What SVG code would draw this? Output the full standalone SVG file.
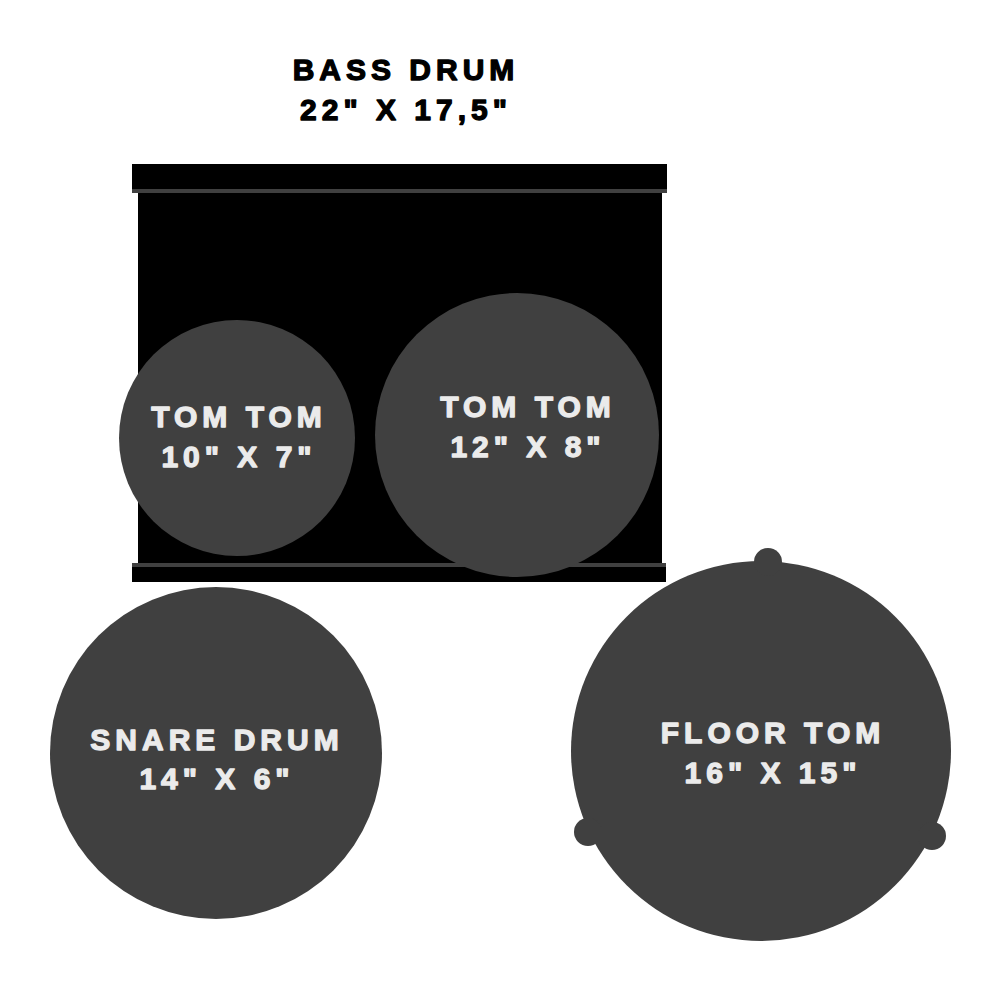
<svg xmlns="http://www.w3.org/2000/svg" width="1000" height="1000" viewBox="0 0 1000 1000">
<style>
.drum{fill:#404040}
.lbl{font-family:"Liberation Sans","DejaVu Sans",sans-serif;font-weight:bold;font-size:30px;letter-spacing:5px;text-anchor:middle;fill:#ebebeb;stroke:#ebebeb;stroke-width:1.3px;stroke-linejoin:round}
.title{font-family:"Liberation Sans","DejaVu Sans",sans-serif;font-weight:bold;font-size:30px;letter-spacing:5px;text-anchor:middle;fill:#000;stroke:#000;stroke-width:1.3px;stroke-linejoin:round}
</style>
<rect width="1000" height="1000" fill="#fff"/>
<g id="bass-drum">
  <rect x="138" y="190" width="524" height="376" fill="#000"/>
  <rect x="132" y="164" width="535" height="27" fill="#000"/>
  <rect x="132" y="189" width="535" height="4" fill="#404040"/>
  <rect x="132" y="563" width="534" height="19" fill="#000"/>
  <rect x="132" y="563" width="534" height="4" fill="#404040"/>
  <text class="title" x="406" y="80">BASS DRUM</text>
  <text class="title" x="406" y="120">22" X 17,5"</text>
</g>
<g id="tom-10">
  <circle class="drum" cx="237" cy="438" r="118"/>
  <text class="lbl" x="239" y="427">TOM TOM</text>
  <text class="lbl" x="239" y="467">10" X 7"</text>
</g>
<g id="tom-12">
  <circle class="drum" cx="517" cy="435" r="142"/>
  <text class="lbl" x="528" y="417">TOM TOM</text>
  <text class="lbl" x="528" y="457">12" X 8"</text>
</g>
<g id="snare-drum">
  <circle class="drum" cx="216" cy="753" r="166"/>
  <text class="lbl" x="217" y="750">SNARE DRUM</text>
  <text class="lbl" x="217" y="789">14" X 6"</text>
</g>
<g id="floor-tom">
  <circle class="drum" cx="761" cy="751" r="190"/>
  <circle class="drum" cx="768" cy="562" r="14"/>
  <circle class="drum" cx="588" cy="832" r="14"/>
  <circle class="drum" cx="932" cy="836" r="14"/>
  <text class="lbl" x="773" y="743">FLOOR TOM</text>
  <text class="lbl" x="773" y="783">16" X 15"</text>
</g>
<g id="connectors"/>
</svg>
